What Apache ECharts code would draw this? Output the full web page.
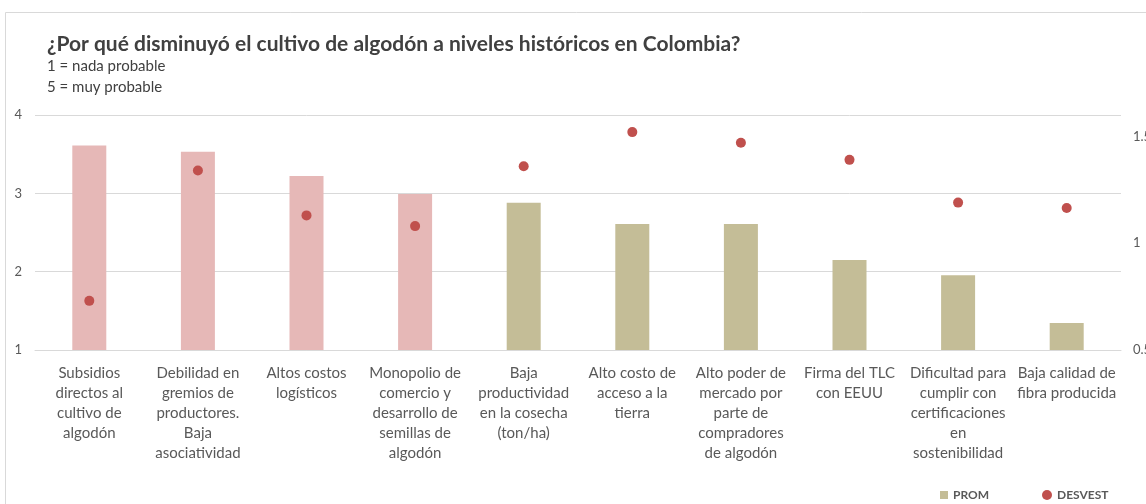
<!DOCTYPE html>
<html>
<head>
<meta charset="utf-8">
<script src="https://cdn.jsdelivr.net/npm/echarts@6/dist/echarts.min.js"></script>
<style>
  html, body { margin: 0; padding: 0; background: #fff; }
  #container { width: 1146px; height: 504px; }
</style>
</head>
<body>
<div id="container"></div>
<script>
var categories = [
  "Subsidios\ndirectos al\ncultivo de\nalgodón",
  "Debilidad en\ngremios de\nproductores.\nBaja\nasociatividad",
  "Altos costos\nlogísticos",
  "Monopolio de\ncomercio y\ndesarrollo de\nsemillas de\nalgodón",
  "Baja\nproductividad\nen la cosecha\n(ton/ha)",
  "Alto costo de\nacceso a la\ntierra",
  "Alto poder de\nmercado por\nparte de\ncompradores\nde algodón",
  "Firma del TLC\ncon EEUU",
  "Dificultad para\ncumplir con\ncertificaciones\nen\nsostenibilidad",
  "Baja calidad de\nfibra producida"
];
var prom = [3.61, 3.53, 3.22, 2.99, 2.88, 2.61, 2.61, 2.15, 1.955, 1.345];
var desvest = [0.73, 1.34, 1.13, 1.08, 1.36, 1.52, 1.47, 1.39, 1.19, 1.165];
// first four bars are highlighted in pink
var highlighted = 4;

var dom = document.getElementById("container");
var myChart = echarts.init(dom);

var FONT = "Lato";
var textGrey = "#595959";

var barData = prom.map(function (v, i) {
  return {
    value: v,
    itemStyle: { color: i < highlighted ? "#E6B8B7" : "#C4BD97" }
  };
});

var option = {
  animation: false,
  backgroundColor: "#fff",
  textStyle: { fontFamily: FONT },
  graphic: [{
    type: "rect",
    shape: { x: 5.5, y: 12.5, width: 1200, height: 600 },
    style: { fill: "none", stroke: "#d9d9d9", lineWidth: 1 },
    silent: true
  }],
  title: [{
    text: "¿Por qué disminuyó el cultivo de algodón a niveles históricos en Colombia?",
    left: 42,
    top: 29,
    textStyle: { fontFamily: FONT, fontSize: 21, fontWeight: "bold", color: "#404040" }
  }, {
    text: "1 = nada probable\n5 = muy probable",
    left: 42,
    top: 51,
    textStyle: { fontFamily: FONT, fontSize: 15, fontWeight: "normal", color: "#404040", lineHeight: 21 }
  }],
  legend: [{
    data: [{ name: "PROM", icon: "rect" }],
    left: 935,
    top: 484,
    itemWidth: 8,
    itemHeight: 8,
    itemGap: 4,
    textStyle: { fontFamily: FONT, fontSize: 12, fontWeight: "bold", color: textGrey }
  }, {
    data: [{ name: "DESVEST", icon: "circle" }],
    left: 1037,
    top: 484,
    itemWidth: 10,
    itemHeight: 10,
    textStyle: { fontFamily: FONT, fontSize: 12, fontWeight: "bold", color: textGrey }
  }],
  grid: {
    left: 35,
    right: 25,
    top: 115,
    bottom: 154,
    containLabel: false,
    outerBoundsMode: "none"
  },
  xAxis: {
    type: "category",
    data: categories,
    axisLine: { lineStyle: { color: "#d9d9d9", width: 1 } },
    axisTick: { show: false },
    axisLabel: {
      interval: 0,
      margin: 13,
      fontFamily: FONT,
      fontSize: 15,
      lineHeight: 20,
      color: textGrey
    }
  },
  yAxis: [{
    type: "value",
    min: 1,
    max: 4,
    interval: 1,
    axisLine: { show: false },
    axisTick: { show: false },
    splitLine: { lineStyle: { color: "#d9d9d9", width: 1 } },
    axisLabel: { margin: 13, fontFamily: FONT, fontSize: 13, color: textGrey }
  }, {
    type: "value",
    min: 0.5,
    max: 1.6,
    interval: 0.5,
    axisLine: { show: false },
    axisTick: { show: false },
    splitLine: { show: false },
    axisLabel: {
      margin: 12,
      fontFamily: FONT,
      fontSize: 13,
      color: textGrey,
      formatter: function (v) {
        return Math.abs(v * 2 - Math.round(v * 2)) < 1e-6 ? String(v) : "";
      }
    }
  }],
  series: [{
    name: "PROM",
    type: "bar",
    data: barData,
    barWidth: 34,
    clip: true,
    itemStyle: { color: "#C4BD97" }
  }, {
    name: "DESVEST",
    type: "scatter",
    yAxisIndex: 1,
    data: desvest,
    symbolSize: 10,
    itemStyle: { color: "#C0504D", opacity: 1 }
  }]
};

myChart.setOption(option, true);
</script>
</body>
</html>
